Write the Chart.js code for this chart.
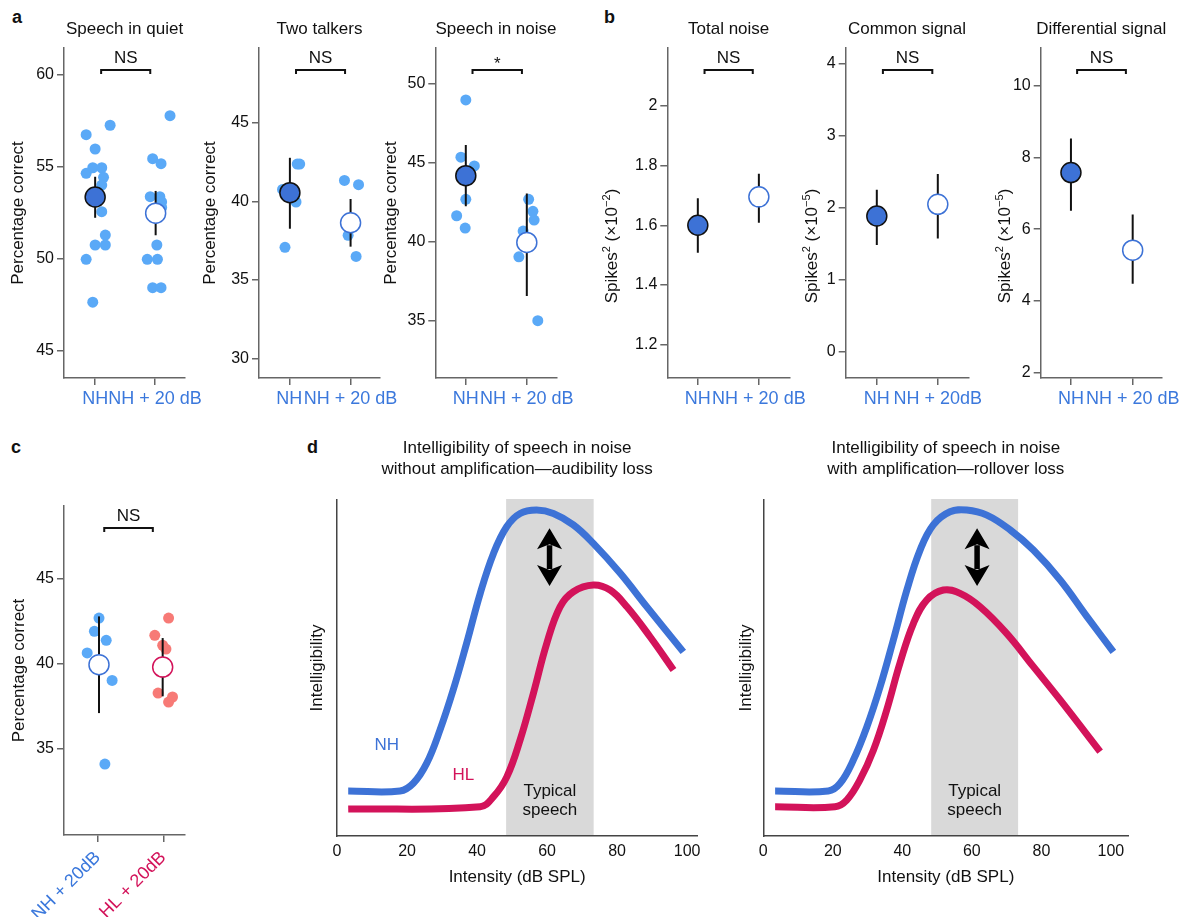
<!DOCTYPE html>
<html><head><meta charset="utf-8">
<script src="https://cdn.jsdelivr.net/npm/chart.js@4.4.1/dist/chart.umd.min.js"></script>
<style>
html,body{margin:0;padding:0;background:#fff;}
body{width:1182px;height:920px;overflow:hidden;position:relative;font-family:"Liberation Sans",Arial,sans-serif;}
canvas{position:absolute;left:0;top:0;}
.pl{position:absolute;font-weight:bold;font-size:18px;line-height:18px;color:#111;}
</style></head>
<body>
<div class="pl" style="left:12px;top:8px">a</div>
<div class="pl" style="left:604px;top:8px">b</div>
<div class="pl" style="left:11px;top:438px">c</div>
<div class="pl" style="left:307px;top:438px">d</div>
<script>
// ---------------- DATA ----------------
const groupLabels  = ['NH', 'NH + 20 dB'];
const groupLabelsB2 = ['NH', 'NH + 20dB'];
const groupLabelsC = ['NH + 20dB', 'HL + 20dB'];

// a: Speech in quiet (percentage correct)
const quietNH_x   = [0.85, 1.00, 1.25, 0.85, 0.96, 1.11, 1.14, 1.11, 1.11, 1.17, 1.00, 1.17, 0.85, 0.96];
const quietNH_y   = [56.76, 55.98, 57.27, 54.66, 54.96, 54.96, 54.44, 54.02, 52.57, 51.30, 50.76, 50.76, 49.98, 47.65];
const quietNH20_x = [2.25, 1.96, 2.10, 1.92, 2.08, 2.11, 2.11, 2.03, 1.87, 2.04, 1.96, 2.10];
const quietNH20_y = [57.79, 55.45, 55.18, 53.39, 53.39, 53.10, 52.80, 50.76, 49.98, 49.98, 48.44, 48.44];
const quietMeanX = [1.00, 2.01];
const quietMean  = [53.37, 52.49];
const quietLo    = [52.24, 51.29];
const quietHi    = [54.47, 53.70];

// a: Two talkers
const twoNH_x   = [0.93, 0.89, 1.13, 1.17, 1.11];
const twoNH_y   = [37.08, 40.76, 42.37, 42.37, 39.96];
const twoNH20_x = [1.90, 2.13, 1.96, 2.09];
const twoNH20_y = [41.33, 41.06, 37.84, 36.50];
const twoMeanX = [1.01, 2.00];
const twoMean  = [40.55, 38.64];
const twoLo    = [38.26, 37.12];
const twoHi    = [42.77, 40.15];

// a: Speech in noise
const noiseNH_x   = [1.00, 0.92, 1.14, 1.00, 0.85, 0.99];
const noiseNH_y   = [48.99, 45.36, 44.81, 42.69, 41.65, 40.87];
const noiseNH20_x = [2.03, 2.10, 2.12, 1.94, 1.87, 2.18];
const noiseNH20_y = [42.69, 41.93, 41.38, 40.68, 39.05, 35.00];
const noiseMeanX = [1.00, 2.00];
const noiseMean  = [44.19, 39.96];
const noiseLo    = [42.25, 36.56];
const noiseHi    = [46.13, 43.06];

// b: Total noise (x10^-2), Common signal (x10^-5), Differential signal (x10^-5)
const totalMean = [1.600, 1.695]; const totalLo = [1.508, 1.608]; const totalHi = [1.690, 1.772];
const commonMean = [1.884, 2.047]; const commonLo = [1.48, 1.57]; const commonHi = [2.25, 2.47];
const diffMean = [7.58, 5.41]; const diffLo = [6.51, 4.47]; const diffHi = [8.53, 6.41];
const catX = [1, 2];

// c: NH + 20dB vs HL + 20dB
const cNH_x = [1.02, 0.95, 1.13, 0.84, 1.22, 1.11];
const cNH_y = [42.69, 41.91, 41.38, 40.63, 39.01, 34.07];
const cHL_x = [2.08, 1.87, 1.99, 2.04, 1.92, 2.08, 2.14];
const cHL_y = [42.69, 41.67, 41.08, 40.86, 38.26, 37.73, 38.03];
const cMeanX = [1.02, 1.99];
const cMean  = [39.94, 39.80];
const cLo    = [37.08, 38.07];
const cHi    = [42.79, 41.51];

// d: schematic intelligibility curves (Intensity dB SPL vs intelligibility 0-1)
const dTicks = [0, 20, 40, 60, 80, 100];
const typicalSpeech = [48.3, 73.3];
const d1NH_dB = [3.2, 18, 21.8, 25.6, 29.4, 33.2, 37, 40.9, 44.7, 48.5, 52.3, 57, 61.8, 67.5, 73.2, 80.9, 88.5, 98.9];
const d1NH_I  = [0.134, 0.134, 0.157, 0.216, 0.315, 0.435, 0.573, 0.722, 0.841, 0.921, 0.960, 0.970, 0.960, 0.926, 0.871, 0.782, 0.682, 0.548];
const d1HL_dB = [3.2, 40.9, 44.7, 48.5, 52.3, 56.1, 59.9, 63.7, 67.5, 73.2, 78, 82.8, 89.4, 96.1];
const d1HL_I  = [0.080, 0.087, 0.117, 0.176, 0.286, 0.425, 0.573, 0.682, 0.727, 0.747, 0.732, 0.682, 0.593, 0.494];
const d2NH_dB = [3.4, 18.7, 22.1, 25.9, 29.8, 33.6, 37.4, 41.3, 45.1, 48.9, 53.7, 58.5, 64.3, 71, 77.7, 85.4, 93.1, 100.7];
const d2NH_I  = [0.134, 0.134, 0.157, 0.226, 0.325, 0.444, 0.583, 0.732, 0.851, 0.926, 0.965, 0.970, 0.955, 0.911, 0.851, 0.762, 0.653, 0.548];
const d2HL_dB = [3.4, 20.6, 24, 27.8, 31.7, 35.5, 39.3, 43.2, 47, 51.8, 56.6, 62.4, 70, 77.7, 85.4, 96.9];
const d2HL_I  = [0.087, 0.087, 0.107, 0.167, 0.256, 0.375, 0.514, 0.633, 0.702, 0.732, 0.722, 0.682, 0.603, 0.504, 0.405, 0.251];

// ---------------- STYLE ----------------
const FONT = '"Liberation Sans", Arial, Helvetica, sans-serif';
const BLUE_PT = '#5aa9f7', BLUE_MEAN = '#3d72d6', BLUE_TXT = '#3b78dc';
const SALMON = '#f77a76', CRIMSON = '#d3135a', AXIS = '#666', INK = '#111';
const W = 1182, H = 920;
Chart.defaults.font.family = FONT;
Chart.defaults.color = INK;

const zip = (xs, ys) => xs.map((x, i) => ({x, y: ys[i]}));

function drawRich(ctx, segs, size, cx, cy) {
  ctx.save();
  ctx.translate(cx, cy);
  ctx.rotate(-Math.PI / 2);
  let total = 0;
  const ws = segs.map(([t, sup]) => {
    ctx.font = `${sup ? size * 0.65 : size}px ${FONT}`;
    const w = ctx.measureText(t).width; total += w; return w;
  });
  let xx = -total / 2;
  ctx.textAlign = 'left'; ctx.textBaseline = 'alphabetic'; ctx.fillStyle = INK;
  segs.forEach(([t, sup], i) => {
    ctx.font = `${sup ? size * 0.65 : size}px ${FONT}`;
    ctx.fillText(t, xx, size * 0.36 - (sup ? size * 0.42 : 0));
    xx += ws[i];
  });
  ctx.restore();
}

const decoPlugin = {
  id: 'deco',
  beforeDraw(chart, args, o) {
    if (!o.band) return;
    const {ctx, chartArea: ca, scales: {x}} = chart;
    const x1 = x.getPixelForValue(o.band[0]), x2 = x.getPixelForValue(o.band[1]);
    ctx.save(); ctx.fillStyle = '#d9d9d9';
    ctx.fillRect(x1, ca.top - 1, x2 - x1, ca.bottom - ca.top + 1);
    ctx.restore();
  },
  afterDraw(chart, args, o) {
    const {ctx, chartArea: ca, scales: {x, y}} = chart;
    const cx = (ca.left + ca.right) / 2;
    ctx.save();
    ctx.fillStyle = INK; ctx.textAlign = 'center';
    if (o.title) {
      ctx.font = `17px ${FONT}`; ctx.textBaseline = 'middle';
      o.title.forEach((t, i) => ctx.fillText(t, cx, ca.top + o.titleY + i * 21));
    }
    if (o.ytitle) drawRich(ctx, o.ytitle, 17, ca.left - o.ytx, o.yty != null ? o.yty : (ca.top + ca.bottom) / 2);
    if (o.xtitle) {
      ctx.font = `17px ${FONT}`; ctx.textBaseline = 'middle'; ctx.fillStyle = INK;
      ctx.fillText(o.xtitle, cx, ca.bottom + 41);
    }
    if (o.bracket) {
      const [b1, b2, lab] = o.bracket;
      const x1 = x.getPixelForValue(b1), x2 = x.getPixelForValue(b2), yb = ca.top + 22;
      ctx.strokeStyle = INK; ctx.lineWidth = 2;
      ctx.beginPath(); ctx.moveTo(x1, yb + 4); ctx.lineTo(x1, yb); ctx.lineTo(x2, yb); ctx.lineTo(x2, yb + 4); ctx.stroke();
      ctx.font = `17px ${FONT}`; ctx.textBaseline = 'alphabetic';
      ctx.fillText(lab, (x1 + x2) / 2, lab === '*' ? yb - 1 : ca.top + 14.8);
    }
    if (o.bandText) {
      const bx = x.getPixelForValue((o.band[0] + o.band[1]) / 2);
      ctx.font = `17px ${FONT}`; ctx.textBaseline = 'middle'; ctx.fillStyle = INK;
      ctx.fillText(o.bandText[0], bx, ca.bottom - 45);
      ctx.fillText(o.bandText[1], bx, ca.bottom - 26);
    }
    if (o.texts) o.texts.forEach(t => {
      ctx.fillStyle = t.color; ctx.font = `17px ${FONT}`; ctx.textBaseline = 'middle';
      ctx.fillText(t.text, x.getPixelForValue(t.x), y.getPixelForValue(t.y));
    });
    if (o.arrow) {
      const ax = x.getPixelForValue(o.arrow.x), y1 = y.getPixelForValue(o.arrow.to), y2 = y.getPixelForValue(o.arrow.from);
      const hl = 19, hw = 12.5;
      ctx.fillStyle = '#000'; ctx.strokeStyle = '#000'; ctx.lineWidth = 5.5;
      ctx.beginPath(); ctx.moveTo(ax, y1 + hl - 2); ctx.lineTo(ax, y2 - hl + 2); ctx.stroke();
      ctx.beginPath(); ctx.moveTo(ax, y1); ctx.lineTo(ax + hw, y1 + hl + 2); ctx.lineTo(ax, y1 + hl - 3); ctx.lineTo(ax - hw, y1 + hl + 2); ctx.closePath(); ctx.fill();
      ctx.beginPath(); ctx.moveTo(ax, y2); ctx.lineTo(ax + hw, y2 - hl - 2); ctx.lineTo(ax, y2 - hl + 3); ctx.lineTo(ax - hw, y2 - hl - 2); ctx.closePath(); ctx.fill();
    }
    ctx.restore();
  }
};

function makeChart(area, yW, xH, scales, datasets, deco) {
  const cv = document.createElement('canvas');
  cv.width = W; cv.height = H;
  document.body.appendChild(cv);
  const [l, t, r, b] = area;
  scales.x.afterFit = s => { s.height = xH; s.paddingLeft = 0; s.paddingRight = 0; };
  scales.y.afterFit = s => { s.width = yW; s.paddingTop = 0; s.paddingBottom = 0; };
  return new Chart(cv, {
    type: 'scatter',
    data: {datasets},
    options: {
      responsive: false, animation: false, events: [],
      layout: {padding: {left: l - yW, top: t, right: W - r, bottom: H - b - xH}},
      plugins: {legend: {display: false}, tooltip: {enabled: false}, deco},
      scales
    },
    plugins: [decoPlugin]
  });
}

function catPanel(p) {
  const rot = p.rot || 0;
  const scales = {
    x: {
      type: 'linear', min: p.xr[0], max: p.xr[1],
      afterBuildTicks: s => { s.ticks = catX.map(v => ({value: v})); },
      ticks: {
        callback: v => p.labels[Math.round(v) - 1],
        color: c => (p.labelColors ? p.labelColors[c.index] : BLUE_TXT),
        font: {size: 18}, padding: p.rot ? 5 : 3, autoSkip: false, maxRotation: rot, minRotation: rot
      },
      grid: {drawOnChartArea: false, color: AXIS, lineWidth: 1.5, tickLength: 7},
      border: {color: AXIS, width: 1.5}
    },
    y: {
      type: 'linear', min: p.yr[0], max: p.yr[1],
      afterBuildTicks: s => { s.ticks = p.yTicks.map(v => ({value: v})); },
      ticks: {callback: v => String(v), font: {size: 16}, padding: 3, color: INK},
      grid: {drawOnChartArea: false, color: AXIS, lineWidth: 1.5, tickLength: 7},
      border: {color: AXIS, width: 1.5}
    }
  };
  const ds = [];
  const meanX = p.meanX || catX;
  const fills = p.meanFill || [BLUE_MEAN, '#ffffff'];
  const strokes = p.meanStroke || [INK, BLUE_MEAN];
  const ptCols = p.ptColors || [BLUE_PT, BLUE_PT];
  for (let i = 0; i < 2; i++) {
    ds.push({data: [{x: meanX[i], y: p.mean[i]}], pointRadius: 10, pointBackgroundColor: fills[i],
             pointBorderColor: strokes[i], pointBorderWidth: 1.5, order: 0});
    ds.push({data: [{x: meanX[i], y: p.lo[i]}, {x: meanX[i], y: p.hi[i]}], showLine: true, borderColor: INK,
             borderWidth: 2, pointRadius: 0, order: 1});
    if (p.pts) ds.push({data: zip(p.pts[i][0], p.pts[i][1]), pointRadius: 5.5, pointBackgroundColor: ptCols[i],
             pointBorderWidth: 0, order: 2});
  }
  return makeChart(p.area, 40, p.xH || 40, scales, ds, {
    title: p.title ? [p.title] : null, titleY: -19,
    ytitle: p.ytitle, ytx: p.ytx, yty: p.yty, bracket: p.bracket
  });
}

const pcLabel = [['Percentage correct', false]];
const spikes2 = [['Spikes', false], ['2', true], [' (\u00d710', false], ['\u22122', true], [')', false]];
const spikes5 = [['Spikes', false], ['2', true], [' (\u00d710', false], ['\u22125', true], [')', false]];

catPanel({area: [64, 48, 185, 378], xr: [0.48, 2.5], yr: [43.53, 61.47], yTicks: [45, 50, 55, 60],
  labels: groupLabels, title: 'Speech in quiet', ytitle: pcLabel, ytx: 47.5,
  pts: [[quietNH_x, quietNH_y], [quietNH20_x, quietNH20_y]], meanX: quietMeanX,
  mean: quietMean, lo: quietLo, hi: quietHi, bracket: [1.1, 1.92, 'NS']});

catPanel({area: [259, 48, 380, 378], xr: [0.506, 2.48], yr: [28.77, 49.75], yTicks: [30, 35, 40, 45],
  labels: groupLabels, title: 'Two talkers', ytitle: pcLabel, ytx: 50,
  pts: [[twoNH_x, twoNH_y], [twoNH20_x, twoNH20_y]], meanX: twoMeanX,
  mean: twoMean, lo: twoLo, hi: twoHi, bracket: [1.11, 1.91, 'NS']});

catPanel({area: [435.3, 48, 556.7, 378], xr: [0.5, 2.49], yr: [31.37, 52.28], yTicks: [35, 40, 45, 50],
  labels: groupLabels, title: 'Speech in noise', ytitle: pcLabel, ytx: 45,
  pts: [[noiseNH_x, noiseNH_y], [noiseNH20_x, noiseNH20_y]], meanX: noiseMeanX,
  mean: noiseMean, lo: noiseLo, hi: noiseHi, bracket: [1.11, 1.92, '*']});

catPanel({area: [667.3, 48, 790, 378], xr: [0.5, 2.51], yr: [1.089, 2.193], yTicks: [1.2, 1.4, 1.6, 1.8, 2],
  labels: groupLabels, title: 'Total noise', ytitle: spikes2, ytx: 56, yty: 246,
  mean: totalMean, lo: totalLo, hi: totalHi, bracket: [1.11, 1.9, 'NS']});

catPanel({area: [845.7, 48, 968.3, 378], xr: [0.49, 2.5], yr: [-0.372, 4.223], yTicks: [0, 1, 2, 3, 4],
  labels: groupLabelsB2, title: 'Common signal', ytitle: spikes5, ytx: 34.5, yty: 246,
  mean: commonMean, lo: commonLo, hi: commonHi, bracket: [1.1, 1.91, 'NS']});

catPanel({area: [1040.7, 48, 1161.7, 378], xr: [0.51, 2.47], yr: [1.84, 11.06], yTicks: [2, 4, 6, 8, 10],
  labels: groupLabels, title: 'Differential signal', ytitle: spikes5, ytx: 37, yty: 246,
  mean: diffMean, lo: diffLo, hi: diffHi, bracket: [1.1, 1.89, 'NS']});

catPanel({area: [64, 506, 185, 835], xr: [0.487, 2.33], yr: [29.88, 49.31], yTicks: [35, 40, 45],
  labels: groupLabelsC, labelColors: [BLUE_TXT, CRIMSON], rot: 45, xH: 82, ytitle: pcLabel, ytx: 46,
  pts: [[cNH_x, cNH_y], [cHL_x, cHL_y]], ptColors: [BLUE_PT, SALMON], meanX: cMeanX,
  meanFill: ['#ffffff', '#ffffff'], meanStroke: [BLUE_MEAN, CRIMSON],
  mean: cMean, lo: cLo, hi: cHi, bracket: [1.1, 1.84, 'NS']});

function curvePanel(area, xmax, nh, hl, title, arrowX, texts, ytx) {
  const scales = {
    x: {
      type: 'linear', min: 0, max: xmax,
      afterBuildTicks: s => { s.ticks = dTicks.map(v => ({value: v})); },
      ticks: {callback: v => String(v), font: {size: 16}, padding: 6, color: INK, autoSkip: false, maxRotation: 0},
      grid: {display: false, drawTicks: false},
      border: {color: '#444', width: 1.5}
    },
    y: {
      type: 'linear', min: 0, max: 1,
      ticks: {display: false},
      grid: {display: false, drawTicks: false},
      border: {color: '#444', width: 1.5}
    }
  };
  const curve = (pts, col) => ({data: pts, showLine: true, borderColor: col, borderWidth: 7, pointRadius: 0,
    tension: 0.4, borderCapStyle: 'butt', borderJoinStyle: 'round'});
  const ds = [curve(zip(nh[0], nh[1]), BLUE_MEAN), curve(zip(hl[0], hl[1]), CRIMSON)];
  return makeChart(area, 1, 50, scales, ds, {
    title, titleY: -51.7, band: typicalSpeech, bandText: ['Typical', 'speech'],
    ytitle: [['Intelligibility', false]], ytx, xtitle: 'Intensity (dB SPL)',
    arrow: {x: arrowX, from: 0.744, to: 0.916}, texts
  });
}

curvePanel([337, 500, 697.3, 836], 102.9, [d1NH_dB, d1NH_I], [d1HL_dB, d1HL_I],
  ['Intelligibility of speech in noise', 'without amplification\u2014audibility loss'], 60.7,
  [{text: 'NH', x: 14.2, y: 0.271, color: BLUE_MEAN}, {text: 'HL', x: 36.1, y: 0.182, color: CRIMSON}], 21);

curvePanel([763.3, 500, 1128.3, 836], 105, [d2NH_dB, d2NH_I], [d2HL_dB, d2HL_I],
  ['Intelligibility of speech in noise', 'with amplification\u2014rollover loss'], 61.5, [], 18.3);
</script>
</body></html>
